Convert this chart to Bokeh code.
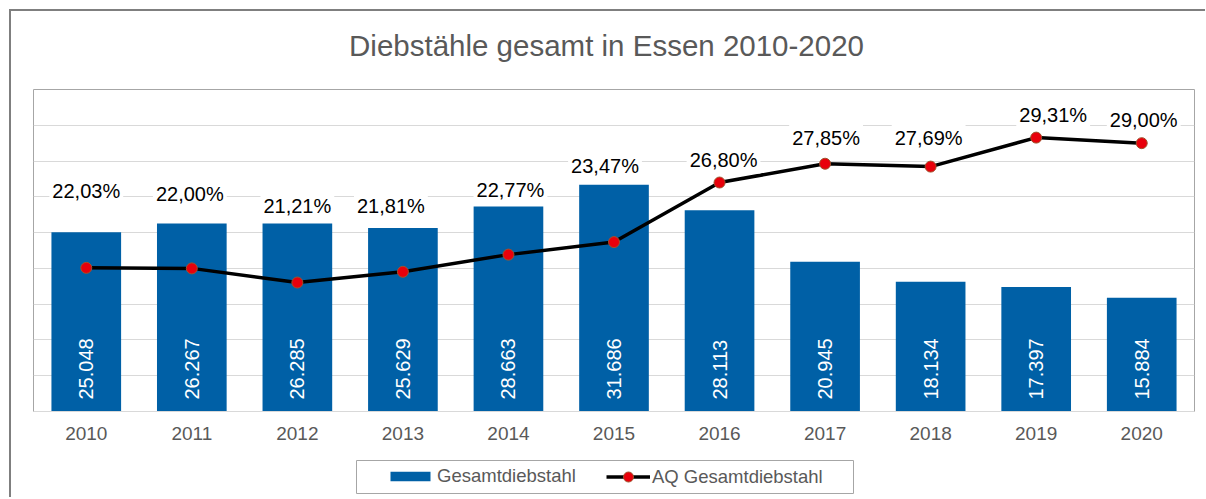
import math
from bokeh.plotting import figure
from bokeh.layouts import column
from bokeh.models import (ColumnDataSource, Range1d, FactorRange, FixedTicker,
                          Legend, LegendItem)
from bokeh.core.properties import value
from bokeh.embed import file_html
from bokeh.resources import INLINE

# ---- data ----
title_text = "Diebstähle gesamt in Essen 2010-2020"
years = [str(y) for y in range(2010, 2021)]
diebstahl = [25048, 26267, 26285, 25629, 28663, 31686, 28113, 20945, 18134, 17397, 15884]
aq_pct = [22.03, 22.00, 21.21, 21.81, 22.77, 23.47, 26.80, 27.85, 27.69, 29.31, 29.00]
series_names = ["Gesamtdiebstahl", "AQ Gesamtdiebstahl"]

y_max = 45000
pct_min, pct_max = 14, 32

# label nudges in pixels (dx to the right, dy upward from the point)
lab_dx = [0, -2, 0, -12, 2, -9, 4, 1, -2, 17, 2]
lab_dy = [77, 74, 76.5, 66, 65, 76, 23, 26, 29, 23, 23.5]

# ---- layout (pixels) ----
W = 1194
H0 = 77            # title strip
H1 = 368           # chart part
H2 = 41            # legend strip
B_LEFT, B_RIGHT, B_TOP, B_BOTTOM = 22, 11, 1, 45
frame_h = H1 - B_TOP - B_BOTTOM
TITLE_POS = (595, 43)
LEG_BOX = dict(left=345, right=842, bottom=4, top=37)   # legend frame, strip pixels
LEG_A_POS = (374 - B_LEFT, 10)
LEG_B_POS = (595 - B_LEFT, 8)

FONT = "Liberation Sans"
BLUE = "#0060A6"
GRAY_TXT = "#595959"
RED = "#e8000b"
RED_EDGE = "#a0522d"


def strip(height):
    f = figure(width=W, height=height, x_range=Range1d(B_LEFT, W - B_RIGHT),
               y_range=Range1d(0, height), output_backend="svg",
               toolbar_location=None, x_axis_location=None, y_axis_location=None,
               min_border=0, min_border_left=0, min_border_right=0,
               min_border_top=0, min_border_bottom=0)
    f.outline_line_color = None
    f.grid.visible = False
    return f


# ---- title strip ----
p0 = strip(H0)
p0.text(x=[TITLE_POS[0]], y=[TITLE_POS[1]], text=[title_text],
        text_align="center", text_baseline="middle", text_color=GRAY_TXT,
        text_font=value(FONT), text_font_size="29.5px")

# ---- chart ----
src = ColumnDataSource(dict(
    year=years,
    total=diebstahl,
    aq=aq_pct,
    bar_txt=[f"{v:,}".replace(",", ".") for v in diebstahl],
    bar_lab_y=[12 * y_max / frame_h] * len(years),
    aq_txt=[f"{v:.2f}%".replace(".", ",") for v in aq_pct],
    aq_lab_y=[a + dy * (pct_max - pct_min) / frame_h for a, dy in zip(aq_pct, lab_dy)],
    dx=lab_dx,
))

p = figure(x_range=FactorRange(factors=years, range_padding=0),
           y_range=Range1d(0, y_max),
           width=W, height=H1, output_backend="svg", toolbar_location=None,
           min_border_left=B_LEFT, min_border_right=B_RIGHT,
           min_border_top=B_TOP, min_border_bottom=B_BOTTOM)
p.extra_y_ranges = {"pct": Range1d(pct_min, pct_max)}

p.outline_line_color = "#a6a6a6"
p.outline_line_width = 1
p.xgrid.grid_line_color = None
p.ygrid.ticker = FixedTicker(ticks=list(range(0, y_max + 1, 5000)))
p.ygrid.grid_line_color = "#d9d9d9"
p.ygrid.grid_line_width = 1
p.yaxis.visible = False

xa = p.xaxis[0]
xa.axis_line_color = "#d9d9d9"
xa.major_tick_line_color = None
xa.minor_tick_line_color = None
xa.major_tick_out = 0
xa.major_label_standoff = 15
xa.major_label_text_font = FONT
xa.major_label_text_font_size = "19px"
xa.major_label_text_color = GRAY_TXT

p.vbar(x="year", top="total", width=0.66, source=src,
       fill_color=BLUE, line_color=None)
p.text(x="year", y="bar_lab_y", text="bar_txt", source=src, angle=math.pi / 2,
       text_align="left", text_baseline="middle", text_color="white",
       text_font=value(FONT), text_font_size="20px")

p.line("year", "aq", source=src, y_range_name="pct",
       line_color="black", line_width=3.5)
p.scatter("year", "aq", source=src, y_range_name="pct", size=11,
          fill_color=RED, line_color=RED_EDGE, line_width=1)

p.text(x="year", y="aq_lab_y", text="aq_txt", source=src, y_range_name="pct",
       x_offset="dx", text_align="center", text_baseline="middle",
       text_color="black", text_font=value(FONT), text_font_size="20px",
       background_fill_color="white", padding=3)

# ---- legend strip ----
p2 = strip(H2)
p2.quad(**LEG_BOX, fill_color="white", line_color="#a6a6a6", line_width=1)

# stand-in renderers (kept outside the visible range) that carry the legend styles
proxy = ColumnDataSource(dict(x=[-1000], y=[-1000]))
lb = p2.vbar(x="x", top="y", width=1, source=proxy, fill_color=BLUE, line_color=None)
ll = p2.line("x", "y", source=proxy, line_color="black", line_width=3.5)
lp = p2.scatter("x", "y", source=proxy, size=11, fill_color=RED,
                line_color=RED_EDGE, line_width=1)

leg_style = dict(orientation="horizontal", padding=0, label_standoff=2,
                 label_height=21, label_text_font=FONT,
                 label_text_font_size="18.5px", label_text_color=GRAY_TXT,
                 border_line_alpha=0, background_fill_alpha=0, margin=0)
leg_a = Legend(items=[LegendItem(label=series_names[0], renderers=[lb])],
               location=LEG_A_POS, glyph_width=50, glyph_height=12, **leg_style)
leg_b = Legend(items=[LegendItem(label=series_names[1], renderers=[ll, lp])],
               location=LEG_B_POS, glyph_width=44, glyph_height=25, **leg_style)
p2.add_layout(leg_a, "center")
p2.add_layout(leg_b, "center")

lay = column(p0, p, p2, spacing=0)
lay.styles = {"margin-left": "9px", "margin-top": "9px",
              "border-left": "2px solid #7f7f7f", "border-top": "2px solid #7f7f7f"}

open("out.html", "w").write(file_html(lay, INLINE))
